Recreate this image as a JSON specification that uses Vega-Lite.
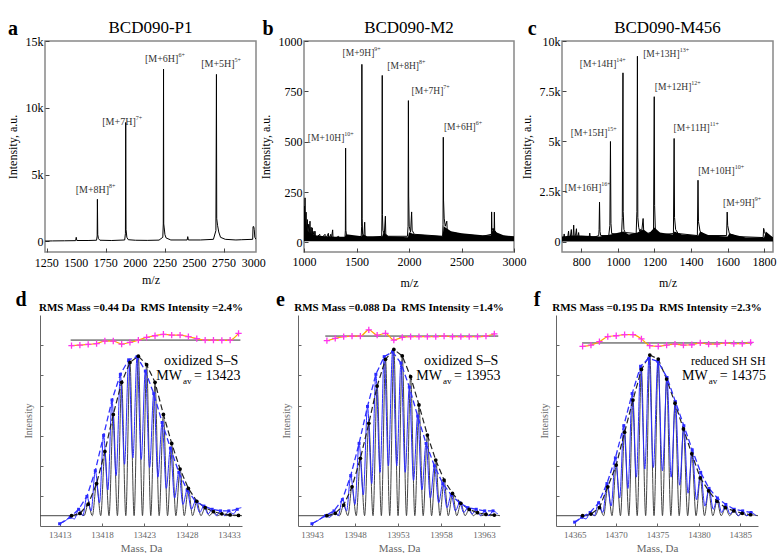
{
"padding": {"left": 5, "top": 18, "right": 0, "bottom": 0},
"config": {"font": "Liberation Serif", "view": {"stroke": null}, "axis": {"grid": false, "labelFlush": false, "labelOverlap": false, "titleFontWeight": "normal"}},
"datasets": {
"a": [{"x":1236,"y":20},{"x":1300,"y":30},{"x":1400,"y":40},{"x":1495,"y":50},{"x":1500,"y":300},{"x":1505,"y":60},{"x":1600,"y":60},{"x":1672,"y":80},{"x":1677,"y":400},{"x":1679,"y":3150},{"x":1682,"y":500},{"x":1688,"y":200},{"x":1700,"y":80},{"x":1800,"y":60},{"x":1910,"y":100},{"x":1916,"y":600},{"x":1918.6,"y":8900},{"x":1921,"y":900},{"x":1928,"y":300},{"x":1940,"y":120},{"x":2000,"y":80},{"x":2100,"y":70},{"x":2200,"y":90},{"x":2232,"y":300},{"x":2236,"y":1300},{"x":2238.2,"y":12900},{"x":2240,"y":1300},{"x":2244,"y":1000},{"x":2250,"y":500},{"x":2260,"y":250},{"x":2300,"y":100},{"x":2438,"y":100},{"x":2443,"y":350},{"x":2448,"y":100},{"x":2550,"y":100},{"x":2660,"y":150},{"x":2681,"y":800},{"x":2685.6,"y":12500},{"x":2688,"y":1700},{"x":2695,"y":1200},{"x":2705,"y":700},{"x":2720,"y":300},{"x":2760,"y":150},{"x":2850,"y":100},{"x":2900,"y":120},{"x":2992,"y":150},{"x":2995,"y":1100},{"x":3001,"y":1100},{"x":3005,"y":900},{"x":3010,"y":300},{"x":3020,"y":150}],
"ta": [{"v":1250},{"v":1500},{"v":1750},{"v":2000},{"v":2250},{"v":2500},{"v":2750},{"v":3000}],
"b": [{"x":1000,"y":20},{"x":1003,"y":180},{"x":1006,"y":30},{"x":1010,"y":221},{"x":1014,"y":40},{"x":1020,"y":150},{"x":1024,"y":40},{"x":1032,"y":113},{"x":1036,"y":40},{"x":1045,"y":90},{"x":1049,"y":30},{"x":1057,"y":105},{"x":1061,"y":30},{"x":1068,"y":75},{"x":1072,"y":25},{"x":1079,"y":72},{"x":1083,"y":25},{"x":1095,"y":55},{"x":1100,"y":20},{"x":1105,"y":55},{"x":1110,"y":20},{"x":1150,"y":40},{"x":1155,"y":15},{"x":1200,"y":40},{"x":1205,"y":15},{"x":1232,"y":45},{"x":1236,"y":15},{"x":1255,"y":40},{"x":1260,"y":15},{"x":1273,"y":62},{"x":1277,"y":15},{"x":1330,"y":30},{"x":1335,"y":15},{"x":1390,"y":20},{"x":1394,"y":60},{"x":1396.3,"y":468},{"x":1399,"y":60},{"x":1404,"y":40},{"x":1408,"y":30},{"x":1412,"y":15},{"x":1500,"y":25},{"x":1545,"y":30},{"x":1549,"y":80},{"x":1551.3,"y":884},{"x":1554,"y":120},{"x":1558,"y":40},{"x":1570,"y":30},{"x":1578,"y":100},{"x":1582,"y":30},{"x":1600,"y":20},{"x":1740,"y":30},{"x":1743,"y":140},{"x":1745.1,"y":829},{"x":1747,"y":138},{"x":1752,"y":60},{"x":1765,"y":40},{"x":1775,"y":130},{"x":1779,"y":40},{"x":1800,"y":30},{"x":1985,"y":30},{"x":1991,"y":80},{"x":1994.3,"y":704},{"x":1997,"y":230},{"x":2002,"y":80},{"x":2015,"y":50},{"x":2025,"y":151},{"x":2030,"y":60},{"x":2050,"y":40},{"x":2320,"y":30},{"x":2324,"y":90},{"x":2326.5,"y":522},{"x":2329,"y":210},{"x":2335,"y":120},{"x":2345,"y":80},{"x":2360,"y":105},{"x":2364,"y":60},{"x":2400,"y":50},{"x":2500,"y":40},{"x":2600,"y":35},{"x":2700,"y":30},{"x":2785,"y":40},{"x":2787,"y":151},{"x":2790,"y":60},{"x":2800,"y":70},{"x":2811,"y":60},{"x":2813,"y":150},{"x":2816,"y":60},{"x":2840,"y":40},{"x":2900,"y":30},{"x":3000,"y":25}],
"bb": [{"x":1000,"lo":5,"hi":60},{"x":1010,"lo":5,"hi":120},{"x":1030,"lo":5,"hi":60},{"x":1060,"lo":5,"hi":45},{"x":1100,"lo":5,"hi":35},{"x":1200,"lo":5,"hi":30},{"x":1300,"lo":5,"hi":28},{"x":1390,"lo":5,"hi":28},{"x":1400,"lo":5,"hi":40},{"x":1550,"lo":5,"hi":30},{"x":1560,"lo":5,"hi":40},{"x":1600,"lo":5,"hi":30},{"x":1745,"lo":5,"hi":30},{"x":1760,"lo":5,"hi":50},{"x":1800,"lo":5,"hi":30},{"x":1990,"lo":5,"hi":25},{"x":2000,"lo":5,"hi":50},{"x":2050,"lo":5,"hi":40},{"x":2320,"lo":5,"hi":30},{"x":2330,"lo":5,"hi":80},{"x":2400,"lo":5,"hi":55},{"x":2500,"lo":5,"hi":45},{"x":2600,"lo":5,"hi":40},{"x":2700,"lo":5,"hi":35},{"x":2780,"lo":5,"hi":35},{"x":2800,"lo":5,"hi":70},{"x":2830,"lo":5,"hi":50},{"x":2900,"lo":5,"hi":35},{"x":3000,"lo":5,"hi":30}],
"c": [{"x":694,"y":150},{"x":703,"y":200},{"x":706,"y":380},{"x":709,"y":150},{"x":725,"y":200},{"x":730,"y":520},{"x":733,"y":150},{"x":740,"y":250},{"x":745,"y":600},{"x":748,"y":200},{"x":755,"y":300},{"x":758,"y":820},{"x":761,"y":200},{"x":768,"y":300},{"x":773,"y":640},{"x":776,"y":200},{"x":782,"y":300},{"x":785,"y":450},{"x":788,"y":200},{"x":800,"y":250},{"x":843,"y":250},{"x":846,"y":420},{"x":849,"y":200},{"x":880,"y":250},{"x":895,"y":300},{"x":897,"y":600},{"x":899.4,"y":1967},{"x":902,"y":500},{"x":906,"y":300},{"x":950,"y":300},{"x":956,"y":800},{"x":959.3,"y":4990},{"x":962,"y":900},{"x":966,"y":400},{"x":1020,"y":350},{"x":1024,"y":1200},{"x":1027.8,"y":8413},{"x":1029,"y":1500},{"x":1033,"y":600},{"x":1040,"y":450},{"x":1100,"y":400},{"x":1104,"y":1500},{"x":1106.8,"y":9240},{"x":1109,"y":1200},{"x":1114,"y":700},{"x":1120,"y":500},{"x":1125,"y":610},{"x":1129,"y":400},{"x":1138,"y":1150},{"x":1142,"y":400},{"x":1160,"y":400},{"x":1195,"y":500},{"x":1198.9,"y":7223},{"x":1201,"y":1800},{"x":1205,"y":600},{"x":1215,"y":500},{"x":1240,"y":350},{"x":1304,"y":400},{"x":1307.8,"y":5140},{"x":1310,"y":1200},{"x":1316,"y":600},{"x":1330,"y":400},{"x":1435,"y":300},{"x":1438.5,"y":3058},{"x":1441,"y":1000},{"x":1450,"y":500},{"x":1480,"y":300},{"x":1595,"y":300},{"x":1598.2,"y":1471},{"x":1601,"y":800},{"x":1610,"y":400},{"x":1650,"y":250},{"x":1795,"y":200},{"x":1797.9,"y":660},{"x":1802,"y":500},{"x":1810,"y":300},{"x":1849,"y":200}],
"cb": [{"x":694,"lo":0,"hi":250},{"x":750,"lo":0,"hi":300},{"x":800,"lo":0,"hi":300},{"x":900,"lo":0,"hi":250},{"x":960,"lo":0,"hi":350},{"x":1030,"lo":0,"hi":500},{"x":1060,"lo":0,"hi":350},{"x":1107,"lo":0,"hi":450},{"x":1140,"lo":0,"hi":600},{"x":1170,"lo":0,"hi":400},{"x":1200,"lo":0,"hi":700},{"x":1230,"lo":0,"hi":450},{"x":1300,"lo":0,"hi":350},{"x":1310,"lo":0,"hi":500},{"x":1350,"lo":0,"hi":350},{"x":1440,"lo":0,"hi":300},{"x":1450,"lo":0,"hi":500},{"x":1500,"lo":0,"hi":300},{"x":1600,"lo":0,"hi":250},{"x":1610,"lo":0,"hi":400},{"x":1700,"lo":0,"hi":200},{"x":1800,"lo":0,"hi":200},{"x":1810,"lo":0,"hi":500},{"x":1849,"lo":0,"hi":200}],
"la": [{"x":1778,"y":3870,"t":"[M+8H]","s":"8+"},{"x":2003,"y":8935,"t":"[M+7H]","s":"7+"},{"x":2364,"y":13677,"t":"[M+6H]","s":"6+"},{"x":2839,"y":13303,"t":"[M+5H]","s":"5+"}],
"lb": [{"x":1384,"y":517,"t":"[M+10H]","s":"10+"},{"x":1670,"y":940,"t":"[M+9H]","s":"9+"},{"x":2095,"y":877,"t":"[M+8H]","s":"8+"},{"x":2327,"y":754,"t":"[M+7H]","s":"7+"},{"x":2635,"y":571,"t":"[M+6H]","s":"6+"}],
"lc": [{"x":909.5,"y":2678,"t":"[M+16H]","s":"16+"},{"x":942,"y":5438,"t":"[M+15H]","s":"15+"},{"x":991.6,"y":8876,"t":"[M+14H]","s":"14+"},{"x":1338,"y":9372,"t":"[M+13H]","s":"13+"},{"x":1402,"y":7686,"t":"[M+12H]","s":"12+"},{"x":1502.6,"y":5686,"t":"[M+11H]","s":"11+"},{"x":1639,"y":3504,"t":"[M+10H]","s":"10+"},{"x":1749,"y":1934,"t":"[M+9H]","s":"9+"}],
"dk": [{"x":13410.68,"y":0,"t":"v"},{"x":13414.40,"y":0,"t":"p"},{"x":13414.89,"y":0,"t":"v"},{"x":13415.39,"y":0.014,"t":"p"},{"x":13415.88,"y":0,"t":"v"},{"x":13416.37,"y":0.072,"t":"p"},{"x":13416.86,"y":0,"t":"v"},{"x":13417.36,"y":0.2,"t":"p"},{"x":13417.85,"y":0,"t":"v"},{"x":13418.34,"y":0.4,"t":"p"},{"x":13418.83,"y":0,"t":"v"},{"x":13419.33,"y":0.63,"t":"p"},{"x":13419.82,"y":0,"t":"v"},{"x":13420.32,"y":0.83,"t":"p"},{"x":13420.81,"y":0,"t":"v"},{"x":13421.30,"y":0.954,"t":"p"},{"x":13421.79,"y":0,"t":"v"},{"x":13422.29,"y":0.993,"t":"p"},{"x":13422.78,"y":0,"t":"v"},{"x":13423.27,"y":0.94,"t":"p"},{"x":13423.76,"y":0,"t":"v"},{"x":13424.26,"y":0.83,"t":"p"},{"x":13424.75,"y":0,"t":"v"},{"x":13425.25,"y":0.63,"t":"p"},{"x":13425.74,"y":0,"t":"v"},{"x":13426.23,"y":0.45,"t":"p"},{"x":13426.72,"y":0,"t":"v"},{"x":13427.22,"y":0.29,"t":"p"},{"x":13427.71,"y":0,"t":"v"},{"x":13428.20,"y":0.17,"t":"p"},{"x":13428.69,"y":0,"t":"v"},{"x":13429.19,"y":0.09,"t":"p"},{"x":13429.68,"y":0,"t":"v"},{"x":13430.18,"y":0.05,"t":"p"},{"x":13430.67,"y":0,"t":"v"},{"x":13431.16,"y":0.025,"t":"p"},{"x":13431.65,"y":0,"t":"v"},{"x":13432.15,"y":0.012,"t":"p"},{"x":13432.64,"y":0,"t":"v"},{"x":13433.13,"y":0.005,"t":"p"},{"x":13433.62,"y":0,"t":"v"},{"x":13434.12,"y":0.002,"t":"p"},{"x":13434.53,"y":0,"t":"v"}],
"db": [{"x":13413.00,"y":-0.05,"t":"p"},{"x":13413.60,"y":-0.035,"t":"v"},{"x":13414.25,"y":-0.01,"t":"p"},{"x":13414.75,"y":-0.02,"t":"v"},{"x":13415.24,"y":0.04,"t":"p"},{"x":13415.73,"y":0.0,"t":"v"},{"x":13416.22,"y":0.12,"t":"p"},{"x":13416.72,"y":0.03,"t":"v"},{"x":13417.21,"y":0.28,"t":"p"},{"x":13417.70,"y":0.08,"t":"v"},{"x":13418.19,"y":0.50,"t":"p"},{"x":13418.69,"y":0.16,"t":"v"},{"x":13419.18,"y":0.72,"t":"p"},{"x":13419.67,"y":0.25,"t":"v"},{"x":13420.17,"y":0.88,"t":"p"},{"x":13420.66,"y":0.32,"t":"v"},{"x":13421.15,"y":0.97,"t":"p"},{"x":13421.65,"y":0.36,"t":"v"},{"x":13422.14,"y":0.99,"t":"p"},{"x":13422.63,"y":0.35,"t":"v"},{"x":13423.12,"y":0.90,"t":"p"},{"x":13423.62,"y":0.30,"t":"v"},{"x":13424.11,"y":0.76,"t":"p"},{"x":13424.60,"y":0.24,"t":"v"},{"x":13425.10,"y":0.58,"t":"p"},{"x":13425.59,"y":0.17,"t":"v"},{"x":13426.08,"y":0.42,"t":"p"},{"x":13426.57,"y":0.11,"t":"v"},{"x":13427.07,"y":0.27,"t":"p"},{"x":13427.56,"y":0.07,"t":"v"},{"x":13428.05,"y":0.16,"t":"p"},{"x":13428.55,"y":0.04,"t":"v"},{"x":13429.04,"y":0.09,"t":"p"},{"x":13429.53,"y":0.02,"t":"v"},{"x":13430.03,"y":0.06,"t":"p"},{"x":13430.52,"y":0.01,"t":"v"},{"x":13431.01,"y":0.04,"t":"p"},{"x":13431.50,"y":0.0,"t":"v"},{"x":13432.00,"y":0.03,"t":"p"},{"x":13432.49,"y":0.0,"t":"v"},{"x":13432.98,"y":0.03,"t":"p"},{"x":13433.48,"y":0.01,"t":"v"},{"x":13433.97,"y":0.04,"t":"p"},{"x":13434.45,"y":0.05,"t":"v"}],
"dr": [{"x":13414.40,"y":1.058},{"x":13415.39,"y":1.062},{"x":13416.37,"y":1.066},{"x":13417.36,"y":1.071},{"x":13418.34,"y":1.087},{"x":13419.33,"y":1.087},{"x":13420.32,"y":1.068},{"x":13421.30,"y":1.079},{"x":13422.29,"y":1.093},{"x":13423.27,"y":1.110},{"x":13424.26,"y":1.120},{"x":13425.25,"y":1.129},{"x":13426.23,"y":1.124},{"x":13427.22,"y":1.124},{"x":13428.20,"y":1.114},{"x":13429.19,"y":1.102},{"x":13430.18,"y":1.093},{"x":13431.16,"y":1.093},{"x":13432.15,"y":1.091},{"x":13433.13,"y":1.093},{"x":13434.12,"y":1.135}],
"ek": [{"x":13941.38,"y":0,"t":"v"},{"x":13944.74,"y":0,"t":"p"},{"x":13945.23,"y":0,"t":"v"},{"x":13945.71,"y":0.015,"t":"p"},{"x":13946.20,"y":0,"t":"v"},{"x":13946.69,"y":0.066,"t":"p"},{"x":13947.18,"y":0,"t":"v"},{"x":13947.66,"y":0.18,"t":"p"},{"x":13948.15,"y":0,"t":"v"},{"x":13948.63,"y":0.357,"t":"p"},{"x":13949.12,"y":0,"t":"v"},{"x":13949.61,"y":0.575,"t":"p"},{"x":13950.10,"y":0,"t":"v"},{"x":13950.58,"y":0.807,"t":"p"},{"x":13951.07,"y":0,"t":"v"},{"x":13951.55,"y":0.973,"t":"p"},{"x":13952.04,"y":0,"t":"v"},{"x":13952.52,"y":1.035,"t":"p"},{"x":13953.01,"y":0,"t":"v"},{"x":13953.50,"y":0.994,"t":"p"},{"x":13953.99,"y":0,"t":"v"},{"x":13954.47,"y":0.865,"t":"p"},{"x":13954.96,"y":0,"t":"v"},{"x":13955.44,"y":0.689,"t":"p"},{"x":13955.93,"y":0,"t":"v"},{"x":13956.42,"y":0.502,"t":"p"},{"x":13956.91,"y":0,"t":"v"},{"x":13957.39,"y":0.346,"t":"p"},{"x":13957.88,"y":0,"t":"v"},{"x":13958.36,"y":0.222,"t":"p"},{"x":13958.85,"y":0,"t":"v"},{"x":13959.34,"y":0.139,"t":"p"},{"x":13959.83,"y":0,"t":"v"},{"x":13960.31,"y":0.077,"t":"p"},{"x":13960.80,"y":0,"t":"v"},{"x":13961.28,"y":0.039,"t":"p"},{"x":13961.77,"y":0,"t":"v"},{"x":13962.25,"y":0.019,"t":"p"},{"x":13962.74,"y":0,"t":"v"},{"x":13963.23,"y":0.008,"t":"p"},{"x":13963.72,"y":0,"t":"v"},{"x":13964.20,"y":0.004,"t":"p"},{"x":13964.86,"y":0,"t":"v"}],
"eb": [{"x":13943.00,"y":-0.05,"t":"p"},{"x":13943.70,"y":-0.03,"t":"v"},{"x":13944.59,"y":0.0,"t":"p"},{"x":13945.08,"y":-0.01,"t":"v"},{"x":13945.56,"y":0.03,"t":"p"},{"x":13946.05,"y":0.0,"t":"v"},{"x":13946.54,"y":0.10,"t":"p"},{"x":13947.03,"y":0.03,"t":"v"},{"x":13947.51,"y":0.25,"t":"p"},{"x":13948.00,"y":0.07,"t":"v"},{"x":13948.48,"y":0.45,"t":"p"},{"x":13948.97,"y":0.13,"t":"v"},{"x":13949.46,"y":0.68,"t":"p"},{"x":13949.95,"y":0.20,"t":"v"},{"x":13950.43,"y":0.88,"t":"p"},{"x":13950.92,"y":0.27,"t":"v"},{"x":13951.40,"y":0.99,"t":"p"},{"x":13951.89,"y":0.31,"t":"v"},{"x":13952.37,"y":1.02,"t":"p"},{"x":13952.86,"y":0.31,"t":"v"},{"x":13953.35,"y":0.95,"t":"p"},{"x":13953.84,"y":0.27,"t":"v"},{"x":13954.32,"y":0.80,"t":"p"},{"x":13954.81,"y":0.22,"t":"v"},{"x":13955.29,"y":0.62,"t":"p"},{"x":13955.78,"y":0.16,"t":"v"},{"x":13956.27,"y":0.45,"t":"p"},{"x":13956.76,"y":0.11,"t":"v"},{"x":13957.24,"y":0.31,"t":"p"},{"x":13957.73,"y":0.08,"t":"v"},{"x":13958.21,"y":0.20,"t":"p"},{"x":13958.70,"y":0.05,"t":"v"},{"x":13959.19,"y":0.13,"t":"p"},{"x":13959.68,"y":0.03,"t":"v"},{"x":13960.16,"y":0.08,"t":"p"},{"x":13960.65,"y":0.02,"t":"v"},{"x":13961.13,"y":0.05,"t":"p"},{"x":13961.62,"y":0.01,"t":"v"},{"x":13962.10,"y":0.04,"t":"p"},{"x":13962.59,"y":0.0,"t":"v"},{"x":13963.08,"y":0.03,"t":"p"},{"x":13963.57,"y":0.0,"t":"v"},{"x":13964.05,"y":0.03,"t":"p"},{"x":13964.60,"y":0.01,"t":"v"}],
"er": [{"x":13944.74,"y":1.089},{"x":13945.71,"y":1.104},{"x":13946.69,"y":1.114},{"x":13947.66,"y":1.118},{"x":13948.63,"y":1.118},{"x":13949.61,"y":1.156},{"x":13950.58,"y":1.124},{"x":13951.55,"y":1.135},{"x":13952.52,"y":1.093},{"x":13953.50,"y":1.110},{"x":13954.47,"y":1.114},{"x":13955.44,"y":1.114},{"x":13956.42,"y":1.114},{"x":13957.39,"y":1.114},{"x":13958.36,"y":1.118},{"x":13959.34,"y":1.114},{"x":13960.31,"y":1.114},{"x":13961.28,"y":1.114},{"x":13962.25,"y":1.114},{"x":13963.23,"y":1.118},{"x":13964.20,"y":1.131}],
"fk": [{"x":14362.75,"y":0,"t":"v"},{"x":14365.96,"y":0,"t":"p"},{"x":14366.47,"y":0,"t":"v"},{"x":14366.97,"y":0.01,"t":"p"},{"x":14367.48,"y":0,"t":"v"},{"x":14367.99,"y":0.05,"t":"p"},{"x":14368.50,"y":0,"t":"v"},{"x":14369.00,"y":0.18,"t":"p"},{"x":14369.51,"y":0,"t":"v"},{"x":14370.02,"y":0.315,"t":"p"},{"x":14370.53,"y":0,"t":"v"},{"x":14371.03,"y":0.52,"t":"p"},{"x":14371.54,"y":0,"t":"v"},{"x":14372.04,"y":0.72,"t":"p"},{"x":14372.55,"y":0,"t":"v"},{"x":14373.06,"y":0.91,"t":"p"},{"x":14373.57,"y":0,"t":"v"},{"x":14374.07,"y":1.0,"t":"p"},{"x":14374.58,"y":0,"t":"v"},{"x":14375.09,"y":0.975,"t":"p"},{"x":14375.60,"y":0,"t":"v"},{"x":14376.10,"y":0.85,"t":"p"},{"x":14376.61,"y":0,"t":"v"},{"x":14377.11,"y":0.70,"t":"p"},{"x":14377.62,"y":0,"t":"v"},{"x":14378.13,"y":0.54,"t":"p"},{"x":14378.64,"y":0,"t":"v"},{"x":14379.14,"y":0.385,"t":"p"},{"x":14379.65,"y":0,"t":"v"},{"x":14380.16,"y":0.235,"t":"p"},{"x":14380.67,"y":0,"t":"v"},{"x":14381.17,"y":0.155,"t":"p"},{"x":14381.68,"y":0,"t":"v"},{"x":14382.18,"y":0.09,"t":"p"},{"x":14382.69,"y":0,"t":"v"},{"x":14383.20,"y":0.05,"t":"p"},{"x":14383.71,"y":0,"t":"v"},{"x":14384.21,"y":0.03,"t":"p"},{"x":14384.72,"y":0,"t":"v"},{"x":14385.23,"y":0.015,"t":"p"},{"x":14385.74,"y":0,"t":"v"},{"x":14386.24,"y":0.006,"t":"p"},{"x":14387.13,"y":0,"t":"v"}],
"fb": [{"x":14365.00,"y":-0.04,"t":"p"},{"x":14365.40,"y":-0.03,"t":"v"},{"x":14365.86,"y":-0.01,"t":"p"},{"x":14366.37,"y":-0.02,"t":"v"},{"x":14366.87,"y":0.02,"t":"p"},{"x":14367.38,"y":0.0,"t":"v"},{"x":14367.89,"y":0.08,"t":"p"},{"x":14368.40,"y":0.02,"t":"v"},{"x":14368.90,"y":0.20,"t":"p"},{"x":14369.41,"y":0.06,"t":"v"},{"x":14369.92,"y":0.36,"t":"p"},{"x":14370.43,"y":0.11,"t":"v"},{"x":14370.93,"y":0.56,"t":"p"},{"x":14371.44,"y":0.17,"t":"v"},{"x":14371.94,"y":0.76,"t":"p"},{"x":14372.45,"y":0.24,"t":"v"},{"x":14372.96,"y":0.93,"t":"p"},{"x":14373.47,"y":0.29,"t":"v"},{"x":14373.97,"y":0.98,"t":"p"},{"x":14374.50,"y":0.30,"t":"v"},{"x":14375.05,"y":0.96,"t":"p"},{"x":14375.60,"y":0.28,"t":"v"},{"x":14376.15,"y":0.86,"t":"p"},{"x":14376.65,"y":0.24,"t":"v"},{"x":14377.16,"y":0.71,"t":"p"},{"x":14377.67,"y":0.19,"t":"v"},{"x":14378.18,"y":0.56,"t":"p"},{"x":14378.69,"y":0.14,"t":"v"},{"x":14379.19,"y":0.41,"t":"p"},{"x":14379.70,"y":0.10,"t":"v"},{"x":14380.21,"y":0.27,"t":"p"},{"x":14380.72,"y":0.06,"t":"v"},{"x":14381.22,"y":0.17,"t":"p"},{"x":14381.73,"y":0.04,"t":"v"},{"x":14382.23,"y":0.11,"t":"p"},{"x":14382.74,"y":0.02,"t":"v"},{"x":14383.25,"y":0.07,"t":"p"},{"x":14383.76,"y":0.01,"t":"v"},{"x":14384.26,"y":0.04,"t":"p"},{"x":14384.77,"y":0.0,"t":"v"},{"x":14385.28,"y":0.03,"t":"p"},{"x":14385.79,"y":0.0,"t":"v"},{"x":14386.29,"y":0.02,"t":"p"},{"x":14386.90,"y":0.0,"t":"v"}],
"fr": [{"x":14365.96,"y":1.054},{"x":14366.97,"y":1.062},{"x":14367.99,"y":1.083},{"x":14369.00,"y":1.114},{"x":14370.02,"y":1.120},{"x":14371.03,"y":1.127},{"x":14372.04,"y":1.127},{"x":14373.06,"y":1.100},{"x":14374.07,"y":1.058},{"x":14375.09,"y":1.054},{"x":14376.10,"y":1.062},{"x":14377.11,"y":1.068},{"x":14378.13,"y":1.062},{"x":14379.14,"y":1.064},{"x":14380.16,"y":1.075},{"x":14381.17,"y":1.068},{"x":14382.18,"y":1.068},{"x":14383.20,"y":1.075},{"x":14384.21,"y":1.071},{"x":14385.23,"y":1.071},{"x":14386.24,"y":1.079}]
},
"bounds": "full",
"spacing": 1,
"vconcat": [
{"bounds": "flush", "spacing": 0, "hconcat": [
 {"width": 5, "height": 211, "data": {"values": []}, "mark": "point"},
 {"bounds": "flush", "spacing": 48, "hconcat": [
  {"width": 211, "height": 211, "view": {"stroke": "#888", "strokeWidth": 1.5},
   "title": {"text": "BCD090-P1", "fontSize": 17, "fontWeight": "normal", "offset": -18},
   "layer": [
    {"data": {"name": "a"}, "mark": {"type": "line", "color": "black", "strokeWidth": 1, "clip": true},
     "encoding": {
      "x": {"field": "x", "type": "quantitative", "scale": {"domain": [1236, 3020], "nice": false, "zero": false},
       "axis": {"values": [1250,1500,1750,2000,2250,2500,2750,3000], "labels": false, "domain": false, "tickSize": -4, "tickColor": "#444", "title": "m/z", "titleFontSize": 12, "titleColor": "black", "titlePadding": 22}},
      "y": {"field": "y", "type": "quantitative", "scale": {"domain": [-800, 15000], "nice": false, "zero": false},
       "axis": {"values": [0,5000,10000,15000], "labelExpr": "datum.value === 0 ? '0' : (datum.value/1000) + 'k'", "labelOverlap": false, "domain": false, "tickSize": -4, "tickColor": "#444", "labelPadding": 6, "labelFontSize": 12, "labelColor": "black", "title": "Intensity, a.u.", "titleFontSize": 12, "titleColor": "black", "titlePadding": 6}}
     }},
    {"data": {"name": "ta"}, "mark": {"type": "text", "align": "center", "baseline": "middle", "fontSize": 12, "dy": 11, "color": "black"},
     "encoding": {"x": {"field": "v", "type": "quantitative"}, "y": {"datum": -800}, "text": {"field": "v", "type": "quantitative", "format": "d"}}},
    {"data": {"name": "la"}, "mark": {"type": "text", "align": "right", "baseline": "middle", "fontSize": 10, "color": "#333"},
     "encoding": {"x": {"field": "x", "type": "quantitative"}, "y": {"field": "y", "type": "quantitative"}, "text": {"field": "t"}}},
    {"data": {"name": "la"}, "mark": {"type": "text", "align": "left", "baseline": "middle", "fontSize": 6, "dy": -4, "color": "#333"},
     "encoding": {"x": {"field": "x", "type": "quantitative"}, "y": {"field": "y", "type": "quantitative"}, "text": {"field": "s"}}},
    {"data": {"values": [{}]}, "mark": {"type": "text", "fontSize": 20, "fontWeight": "bold", "align": "center", "baseline": "alphabetic"},
     "encoding": {"x": {"datum": 965}, "y": {"datum": 15449}, "text": {"value": "a"}}}
   ]},
  {"width": 210, "height": 211, "view": {"stroke": "#888", "strokeWidth": 1.5},
   "title": {"text": "BCD090-M2", "fontSize": 17, "fontWeight": "normal", "offset": -18},
   "layer": [
    {"data": {"name": "bb"}, "mark": {"type": "area", "color": "black", "clip": true},
     "encoding": {
      "x": {"field": "x", "type": "quantitative", "scale": {"domain": [1000, 3000], "nice": false, "zero": false},
       "axis": {"values": [1000,1500,2000,2500,3000], "format": "d", "labelOverlap": false, "domain": false, "tickSize": -4, "tickColor": "#444", "labelPadding": 8, "labelFontSize": 12, "labelColor": "black", "title": "m/z", "titleFontSize": 12, "titleColor": "black", "titlePadding": 10}},
      "y": {"field": "lo", "type": "quantitative", "scale": {"domain": [-48, 1000], "nice": false, "zero": false},
       "axis": {"values": [0,250,500,750,1000], "format": "d", "labelOverlap": false, "domain": false, "tickSize": -4, "tickColor": "#444", "labelPadding": 6, "labelFontSize": 12, "labelColor": "black", "title": "Intensity, a.u.", "titleFontSize": 12, "titleColor": "black", "titlePadding": 6}},
      "y2": {"field": "hi"}
     }},
    {"data": {"name": "b"}, "mark": {"type": "line", "color": "black", "strokeWidth": 1, "clip": true},
     "encoding": {"x": {"field": "x", "type": "quantitative"}, "y": {"field": "y", "type": "quantitative"}}},
    {"data": {"name": "lb"}, "mark": {"type": "text", "align": "right", "baseline": "middle", "fontSize": 9.5, "color": "#333"},
     "encoding": {"x": {"field": "x", "type": "quantitative"}, "y": {"field": "y", "type": "quantitative"}, "text": {"field": "t"}}},
    {"data": {"name": "lb"}, "mark": {"type": "text", "align": "left", "baseline": "middle", "fontSize": 6, "dy": -4, "color": "#333"},
     "encoding": {"x": {"field": "x", "type": "quantitative"}, "y": {"field": "y", "type": "quantitative"}, "text": {"field": "s"}}},
    {"data": {"values": [{}]}, "mark": {"type": "text", "fontSize": 20, "fontWeight": "bold", "align": "center", "baseline": "alphabetic"},
     "encoding": {"x": {"datum": 657}, "y": {"datum": 1030}, "text": {"value": "b"}}}
   ]},
  {"width": 211, "height": 211, "view": {"stroke": "#888", "strokeWidth": 1.5},
   "title": {"text": "BCD090-M456", "fontSize": 17, "fontWeight": "normal", "offset": -18},
   "layer": [
    {"data": {"name": "cb"}, "mark": {"type": "area", "color": "black", "clip": true},
     "encoding": {
      "x": {"field": "x", "type": "quantitative", "scale": {"domain": [694, 1849], "nice": false, "zero": false},
       "axis": {"values": [800,1000,1200,1400,1600,1800], "format": "d", "labelOverlap": false, "domain": false, "tickSize": -4, "tickColor": "#444", "labelPadding": 8, "labelFontSize": 12, "labelColor": "black", "title": "m/z", "titleFontSize": 12, "titleColor": "black", "titlePadding": 10}},
      "y": {"field": "lo", "type": "quantitative", "scale": {"domain": [-520, 10000], "nice": false, "zero": false},
       "axis": {"values": [0,2500,5000,7500,10000], "labelExpr": "datum.value === 0 ? '0' : (datum.value/1000) + 'k'", "labelOverlap": false, "domain": false, "tickSize": -4, "tickColor": "#444", "labelPadding": 6, "labelFontSize": 12, "labelColor": "black", "title": "Intensity, a.u.", "titleFontSize": 12, "titleColor": "black", "titlePadding": 6}},
      "y2": {"field": "hi"}
     }},
    {"data": {"name": "c"}, "mark": {"type": "line", "color": "black", "strokeWidth": 1, "clip": true},
     "encoding": {"x": {"field": "x", "type": "quantitative"}, "y": {"field": "y", "type": "quantitative"}}},
    {"data": {"name": "lc"}, "mark": {"type": "text", "align": "right", "baseline": "middle", "fontSize": 9.5, "color": "#333"},
     "encoding": {"x": {"field": "x", "type": "quantitative"}, "y": {"field": "y", "type": "quantitative"}, "text": {"field": "t"}}},
    {"data": {"name": "lc"}, "mark": {"type": "text", "align": "left", "baseline": "middle", "fontSize": 6, "dy": -4, "color": "#333"},
     "encoding": {"x": {"field": "x", "type": "quantitative"}, "y": {"field": "y", "type": "quantitative"}, "text": {"field": "s"}}},
    {"data": {"values": [{}]}, "mark": {"type": "text", "fontSize": 20, "fontWeight": "bold", "align": "center", "baseline": "alphabetic"},
     "encoding": {"x": {"datum": 531}, "y": {"datum": 10299}, "text": {"value": "c"}}}
   ]}
 ]}
]},
{"bounds": "flush", "spacing": 56, "hconcat": [
 {"width": 202, "height": 211,
  "title": {"text": "RMS Mass =0.44 Da\u00a0\u00a0RMS Intensity =2.4%", "fontSize": 11, "fontWeight": "bold", "offset": -23, "color": "black"},
  "layer": [
   {"data": {"name": "dk"}, "mark": {"type": "line", "interpolate": "monotone", "color": "#444", "strokeWidth": 1},
    "encoding": {
     "x": {"field": "x", "type": "quantitative", "scale": {"domain": [13410.68, 13434.53], "nice": false, "zero": false},
      "axis": {"values": [13413, 13418, 13423, 13428, 13433], "format": "d", "domainColor": "#666", "tickColor": "#666", "tickSize": -3, "labelPadding": 7, "labelFontSize": 9, "labelColor": "#666", "title": "Mass, Da", "titleFontSize": 11, "titleColor": "#666", "titlePadding": 3}},
     "y": {"field": "y", "type": "quantitative", "scale": {"domain": [-0.064, 1.249], "nice": false, "zero": false},
      "axis": {"values": [0.124, 0.311, 0.498, 0.685, 0.876, 1.062], "labels": false, "domainColor": "#666", "tickColor": "#666", "tickSize": -3, "title": "Intensity", "titleFontSize": 10, "titleColor": "#666", "titlePadding": 6}}
    }},
   {"data": {"name": "db"}, "mark": {"type": "line", "interpolate": "monotone", "color": "#2a2aff", "strokeWidth": 1}, "encoding": {"x": {"field": "x", "type": "quantitative"}, "y": {"field": "y", "type": "quantitative"}}},
   {"data": {"name": "dk"}, "transform": [{"filter": "datum.t === 'p'"}], "mark": {"type": "line", "color": "#222", "strokeWidth": 1.2, "strokeDash": [6, 3]}, "encoding": {"x": {"field": "x", "type": "quantitative"}, "y": {"field": "y", "type": "quantitative"}}},
   {"data": {"name": "db"}, "transform": [{"filter": "datum.t === 'p'"}], "mark": {"type": "line", "color": "#3030ff", "strokeWidth": 1.3, "strokeDash": [6, 3]}, "encoding": {"x": {"field": "x", "type": "quantitative"}, "y": {"field": "y", "type": "quantitative"}}},
   {"data": {"name": "db"}, "transform": [{"filter": "datum.t === 'p'"}], "mark": {"type": "square", "color": "#2a2aff", "size": 9, "opacity": 1}, "encoding": {"x": {"field": "x", "type": "quantitative"}, "y": {"field": "y", "type": "quantitative"}}},
   {"data": {"name": "dk"}, "transform": [{"filter": "datum.t === 'p'"}], "mark": {"type": "circle", "color": "black", "size": 14, "opacity": 1}, "encoding": {"x": {"field": "x", "type": "quantitative"}, "y": {"field": "y", "type": "quantitative"}}},
   {"data": {"values": [{}]}, "mark": {"type": "rule", "color": "#333", "strokeWidth": 1}, "encoding": {"x": {"datum": 13414.3}, "x2": {"datum": 13434.34}, "y": {"datum": 1.093}}},
   {"data": {"name": "dr"}, "mark": {"type": "line", "interpolate": "monotone", "color": "#ffaa00", "strokeWidth": 1.2}, "encoding": {"x": {"field": "x", "type": "quantitative"}, "y": {"field": "y", "type": "quantitative"}}},
   {"data": {"name": "dr"}, "mark": {"type": "point", "shape": "M-1,0L1,0M0,-1L0,1", "filled": false, "color": "#ff33ee", "size": 40, "strokeWidth": 1.3, "opacity": 1}, "encoding": {"x": {"field": "x", "type": "quantitative"}, "y": {"field": "y", "type": "quantitative"}}},
   {"data": {"values": [{}]}, "mark": {"type": "text", "align": "left", "baseline": "middle", "fontSize": 14}, "encoding": {"x": {"datum": 13425.32}, "y": {"datum": 0.96}, "text": {"value": "oxidized S–S"}}},
   {"data": {"values": [{}]}, "mark": {"type": "text", "align": "right", "baseline": "middle", "fontSize": 14}, "encoding": {"x": {"datum": 13427.45}, "y": {"datum": 0.869}, "text": {"value": "MW"}}},
   {"data": {"values": [{}]}, "mark": {"type": "text", "align": "left", "baseline": "middle", "fontSize": 9, "dx": 1, "dy": 5}, "encoding": {"x": {"datum": 13427.45}, "y": {"datum": 0.869}, "text": {"value": "av"}}},
   {"data": {"values": [{}]}, "mark": {"type": "text", "align": "left", "baseline": "middle", "fontSize": 14, "dx": 12}, "encoding": {"x": {"datum": 13427.45}, "y": {"datum": 0.869}, "text": {"value": "= 13423"}}},
   {"data": {"values": [{}]}, "mark": {"type": "text", "fontSize": 20, "fontWeight": "bold", "align": "center", "baseline": "alphabetic"}, "encoding": {"x": {"datum": 13408.44}, "y": {"datum": 1.305}, "text": {"value": "d"}}}
  ]},
 {"width": 202, "height": 211,
  "title": {"text": "RMS Mass =0.088 Da\u00a0\u00a0RMS Intensity =1.4%", "fontSize": 11, "fontWeight": "bold", "offset": -23, "color": "black"},
  "layer": [
   {"data": {"name": "ek"}, "mark": {"type": "line", "interpolate": "monotone", "color": "#444", "strokeWidth": 1},
    "encoding": {
     "x": {"field": "x", "type": "quantitative", "scale": {"domain": [13941.38, 13964.86], "nice": false, "zero": false},
      "axis": {"values": [13943, 13948, 13953, 13958, 13963], "format": "d", "domainColor": "#666", "tickColor": "#666", "tickSize": -3, "labelPadding": 7, "labelFontSize": 9, "labelColor": "#666", "title": "Mass, Da", "titleFontSize": 11, "titleColor": "#666", "titlePadding": 3}},
     "y": {"field": "y", "type": "quantitative", "scale": {"domain": [-0.064, 1.249], "nice": false, "zero": false},
      "axis": {"values": [0.124, 0.311, 0.498, 0.685, 0.876, 1.062], "labels": false, "domainColor": "#666", "tickColor": "#666", "tickSize": -3, "title": "Intensity", "titleFontSize": 10, "titleColor": "#666", "titlePadding": 6}}
    }},
   {"data": {"name": "eb"}, "mark": {"type": "line", "interpolate": "monotone", "color": "#2a2aff", "strokeWidth": 1}, "encoding": {"x": {"field": "x", "type": "quantitative"}, "y": {"field": "y", "type": "quantitative"}}},
   {"data": {"name": "ek"}, "transform": [{"filter": "datum.t === 'p'"}], "mark": {"type": "line", "color": "#222", "strokeWidth": 1.2, "strokeDash": [6, 3]}, "encoding": {"x": {"field": "x", "type": "quantitative"}, "y": {"field": "y", "type": "quantitative"}}},
   {"data": {"name": "eb"}, "transform": [{"filter": "datum.t === 'p'"}], "mark": {"type": "line", "color": "#3030ff", "strokeWidth": 1.3, "strokeDash": [6, 3]}, "encoding": {"x": {"field": "x", "type": "quantitative"}, "y": {"field": "y", "type": "quantitative"}}},
   {"data": {"name": "eb"}, "transform": [{"filter": "datum.t === 'p'"}], "mark": {"type": "square", "color": "#2a2aff", "size": 9, "opacity": 1}, "encoding": {"x": {"field": "x", "type": "quantitative"}, "y": {"field": "y", "type": "quantitative"}}},
   {"data": {"name": "ek"}, "transform": [{"filter": "datum.t === 'p'"}], "mark": {"type": "circle", "color": "black", "size": 14, "opacity": 1}, "encoding": {"x": {"field": "x", "type": "quantitative"}, "y": {"field": "y", "type": "quantitative"}}},
   {"data": {"values": [{}]}, "mark": {"type": "rule", "color": "#333", "strokeWidth": 1}, "encoding": {"x": {"datum": 13944.55}, "x2": {"datum": 13964.66}, "y": {"datum": 1.118}}},
   {"data": {"name": "er"}, "mark": {"type": "line", "interpolate": "monotone", "color": "#ffaa00", "strokeWidth": 1.2}, "encoding": {"x": {"field": "x", "type": "quantitative"}, "y": {"field": "y", "type": "quantitative"}}},
   {"data": {"name": "er"}, "mark": {"type": "point", "shape": "M-1,0L1,0M0,-1L0,1", "filled": false, "color": "#ff33ee", "size": 40, "strokeWidth": 1.3, "opacity": 1}, "encoding": {"x": {"field": "x", "type": "quantitative"}, "y": {"field": "y", "type": "quantitative"}}},
   {"data": {"values": [{}]}, "mark": {"type": "text", "align": "left", "baseline": "middle", "fontSize": 14}, "encoding": {"x": {"datum": 13956.03}, "y": {"datum": 0.96}, "text": {"value": "oxidized S–S"}}},
   {"data": {"values": [{}]}, "mark": {"type": "text", "align": "right", "baseline": "middle", "fontSize": 14}, "encoding": {"x": {"datum": 13958.12}, "y": {"datum": 0.869}, "text": {"value": "MW"}}},
   {"data": {"values": [{}]}, "mark": {"type": "text", "align": "left", "baseline": "middle", "fontSize": 9, "dx": 1, "dy": 5}, "encoding": {"x": {"datum": 13958.12}, "y": {"datum": 0.869}, "text": {"value": "av"}}},
   {"data": {"values": [{}]}, "mark": {"type": "text", "align": "left", "baseline": "middle", "fontSize": 14, "dx": 12}, "encoding": {"x": {"datum": 13958.12}, "y": {"datum": 0.869}, "text": {"value": "= 13953"}}},
   {"data": {"values": [{}]}, "mark": {"type": "text", "fontSize": 20, "fontWeight": "bold", "align": "center", "baseline": "alphabetic"}, "encoding": {"x": {"datum": 13939.35}, "y": {"datum": 1.305}, "text": {"value": "e"}}}
  ]},
 {"width": 202, "height": 211,
  "title": {"text": "RMS Mass =0.195 Da\u00a0\u00a0RMS Intensity =2.3%", "fontSize": 11, "fontWeight": "bold", "offset": -23, "color": "black"},
  "layer": [
   {"data": {"name": "fk"}, "mark": {"type": "line", "interpolate": "monotone", "color": "#444", "strokeWidth": 1},
    "encoding": {
     "x": {"field": "x", "type": "quantitative", "scale": {"domain": [14362.75, 14387.13], "nice": false, "zero": false},
      "axis": {"values": [14365, 14370, 14375, 14380, 14385], "format": "d", "domainColor": "#666", "tickColor": "#666", "tickSize": -3, "labelPadding": 7, "labelFontSize": 9, "labelColor": "#666", "title": "Mass, Da", "titleFontSize": 11, "titleColor": "#666", "titlePadding": 3}},
     "y": {"field": "y", "type": "quantitative", "scale": {"domain": [-0.064, 1.249], "nice": false, "zero": false},
      "axis": {"values": [0.124, 0.311, 0.498, 0.685, 0.876, 1.062], "labels": false, "domainColor": "#666", "tickColor": "#666", "tickSize": -3, "title": "Intensity", "titleFontSize": 10, "titleColor": "#666", "titlePadding": 6}}
    }},
   {"data": {"name": "fb"}, "mark": {"type": "line", "interpolate": "monotone", "color": "#2a2aff", "strokeWidth": 1}, "encoding": {"x": {"field": "x", "type": "quantitative"}, "y": {"field": "y", "type": "quantitative"}}},
   {"data": {"name": "fk"}, "transform": [{"filter": "datum.t === 'p'"}], "mark": {"type": "line", "color": "#222", "strokeWidth": 1.2, "strokeDash": [6, 3]}, "encoding": {"x": {"field": "x", "type": "quantitative"}, "y": {"field": "y", "type": "quantitative"}}},
   {"data": {"name": "fb"}, "transform": [{"filter": "datum.t === 'p'"}], "mark": {"type": "line", "color": "#3030ff", "strokeWidth": 1.3, "strokeDash": [6, 3]}, "encoding": {"x": {"field": "x", "type": "quantitative"}, "y": {"field": "y", "type": "quantitative"}}},
   {"data": {"name": "fb"}, "transform": [{"filter": "datum.t === 'p'"}], "mark": {"type": "square", "color": "#2a2aff", "size": 9, "opacity": 1}, "encoding": {"x": {"field": "x", "type": "quantitative"}, "y": {"field": "y", "type": "quantitative"}}},
   {"data": {"name": "fk"}, "transform": [{"filter": "datum.t === 'p'"}], "mark": {"type": "circle", "color": "black", "size": 14, "opacity": 1}, "encoding": {"x": {"field": "x", "type": "quantitative"}, "y": {"field": "y", "type": "quantitative"}}},
   {"data": {"values": [{}]}, "mark": {"type": "rule", "color": "#333", "strokeWidth": 1}, "encoding": {"x": {"datum": 14365.9}, "x2": {"datum": 14386.45}, "y": {"datum": 1.075}}},
   {"data": {"name": "fr"}, "mark": {"type": "line", "interpolate": "monotone", "color": "#ffaa00", "strokeWidth": 1.2}, "encoding": {"x": {"field": "x", "type": "quantitative"}, "y": {"field": "y", "type": "quantitative"}}},
   {"data": {"name": "fr"}, "mark": {"type": "point", "shape": "M-1,0L1,0M0,-1L0,1", "filled": false, "color": "#ff33ee", "size": 40, "strokeWidth": 1.3, "opacity": 1}, "encoding": {"x": {"field": "x", "type": "quantitative"}, "y": {"field": "y", "type": "quantitative"}}},
   {"data": {"values": [{}]}, "mark": {"type": "text", "align": "left", "baseline": "middle", "fontSize": 12}, "encoding": {"x": {"datum": 14379.04}, "y": {"datum": 0.96}, "text": {"value": "reduced SH SH"}}},
   {"data": {"values": [{}]}, "mark": {"type": "text", "align": "right", "baseline": "middle", "fontSize": 14}, "encoding": {"x": {"datum": 14381.06}, "y": {"datum": 0.869}, "text": {"value": "MW"}}},
   {"data": {"values": [{}]}, "mark": {"type": "text", "align": "left", "baseline": "middle", "fontSize": 9, "dx": 1, "dy": 5}, "encoding": {"x": {"datum": 14381.06}, "y": {"datum": 0.869}, "text": {"value": "av"}}},
   {"data": {"values": [{}]}, "mark": {"type": "text", "align": "left", "baseline": "middle", "fontSize": 14, "dx": 12}, "encoding": {"x": {"datum": 14381.06}, "y": {"datum": 0.869}, "text": {"value": "= 14375"}}},
   {"data": {"values": [{}]}, "mark": {"type": "text", "fontSize": 20, "fontWeight": "bold", "align": "center", "baseline": "alphabetic"}, "encoding": {"x": {"datum": 14360.46}, "y": {"datum": 1.305}, "text": {"value": "f"}}}
  ]}
]}
]
}
